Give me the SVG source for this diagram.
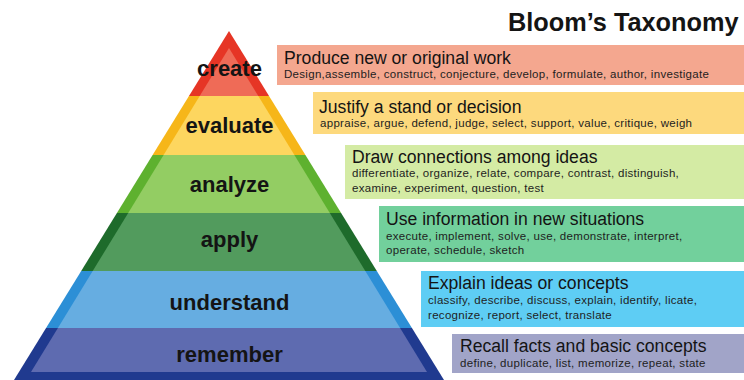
<svg xmlns="http://www.w3.org/2000/svg" width="744" height="380" viewBox="0 0 744 380">
<style>
text{font-family:"Liberation Sans",Arial,sans-serif;fill:#141414}
.lvl{font-size:22px;font-weight:bold;text-anchor:middle}
.ttl{font-size:17.6px}
.sub{font-size:11.5px;letter-spacing:0.3px;fill:#1e1e1e}
.hdr{font-size:25.3px;font-weight:bold}
</style>
<rect width="744" height="380" fill="#ffffff"/>
<text class="hdr" x="508" y="31">Bloom’s Taxonomy</text>
<g id="create">
<polygon points="229,31 269.04,96 188.96,96" fill="#e63525"/>
<polygon points="229,48 258.3,96 199.7,96" fill="#ef6b57"/>
<text class="lvl" x="229.5" y="76">create</text>
<rect x="277" y="45" width="467" height="40" fill="#f4a78f"/>
<text class="ttl" x="284" y="64">Produce new or original work</text>
<text class="sub" x="284" y="78">Design,assemble, construct, conjecture, develop, formulate, author, investigate</text>
</g>
<g id="evaluate">
<polygon points="188.96,96 269.04,96 305.4,155 152.6,155" fill="#f6b619"/>
<polygon points="199.7,96 258.3,96 294.4,155 163.6,155" fill="#fdd65f"/>
<text class="lvl" x="229.5" y="133">evaluate</text>
<rect x="313" y="92" width="431" height="42" fill="#fdd97d"/>
<text class="ttl" x="319" y="113">Justify a stand or decision</text>
<text class="sub" x="320" y="127">appraise, argue, defend, judge, select, support, value, critique, weigh</text>
</g>
<g id="analyze">
<polygon points="152.6,155 305.4,155 341.1,213 116.9,213" fill="#5eb12f"/>
<polygon points="163.6,155 294.4,155 329.8,213 128.2,213" fill="#93cd63"/>
<text class="lvl" x="229.5" y="192">analyze</text>
<rect x="345" y="145" width="399" height="54" fill="#d4eba4"/>
<text class="ttl" x="352" y="162.5">Draw connections among ideas</text>
<text class="sub" x="352" y="177">differentiate, organize, relate, compare, contrast, distinguish,</text>
<text class="sub" x="352" y="191.5">examine, experiment, question, test</text>
</g>
<g id="apply">
<polygon points="116.9,213 341.1,213 376.8,271 81.2,271" fill="#1e6b2b"/>
<polygon points="128.2,213 329.8,213 365.3,271 92.7,271" fill="#529b5d"/>
<text class="lvl" x="229.5" y="247">apply</text>
<rect x="379" y="206" width="365" height="56" fill="#72d09c"/>
<text class="ttl" x="386" y="225">Use information in new situations</text>
<text class="sub" x="386" y="239.5">execute, implement, solve, use, demonstrate, interpret,</text>
<text class="sub" x="386" y="253.5">operate, schedule, sketch</text>
</g>
<g id="understand">
<polygon points="81.2,271 376.8,271 411.95,328 46.05,328" fill="#2c8fd6"/>
<polygon points="92.7,271 365.3,271 400.1,328 57.9,328" fill="#66ade1"/>
<text class="lvl" x="229.5" y="310">understand</text>
<rect x="421" y="271" width="323" height="56" fill="#5ecdf4"/>
<text class="ttl" x="428" y="289">Explain ideas or concepts</text>
<text class="sub" x="428" y="304">classify, describe, discuss, explain, identify, licate,</text>
<text class="sub" x="428" y="318.5">recognize, report, select, translate</text>
</g>
<g id="remember">
<polygon points="46.05,328 411.95,328 444,380 14,380" fill="#203a8f"/>
<polygon points="57.9,328 400.1,328 427,372 31,372" fill="#5e6bb0"/>
<text class="lvl" x="229.5" y="362">remember</text>
<rect x="452" y="334" width="292" height="39" fill="#a1a4c8"/>
<text class="ttl" x="460" y="352">Recall facts and basic concepts</text>
<text class="sub" x="460" y="366.5">define, duplicate, list, memorize, repeat, state</text>
</g>
<g id="connectors"/>
</svg>
